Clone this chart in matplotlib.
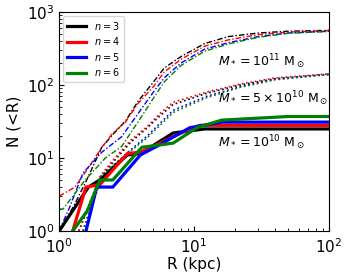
import matplotlib
matplotlib.use("Agg")
import matplotlib.pyplot as plt

# M* = 1e10 (solid)
r10 = {
    "3": [1.0, 1.65, 2.0, 3.2, 4.0, 5.6, 7.0, 12, 100],
    "4": [1.26, 1.58, 2.0, 3.2, 4.0, 5.6, 8.0, 11, 100],
    "5": [1.58, 1.9, 2.5, 4.0, 5.5, 9.3, 16, 100],
    "6": [1.26, 1.62, 2.0, 2.5, 4.1, 7.0, 10.5, 16, 50, 100],
}
n10 = {
    "3": [1, 4, 5, 11, 11.5, 17, 22, 25, 25],
    "4": [1, 4, 4.3, 11.5, 12, 16, 22, 28, 28],
    "5": [1, 4, 4, 11, 15, 26, 31, 31],
    "6": [1, 1.9, 5, 5, 14, 16, 26, 33, 37, 37],
}

# M* = 1e11 (dash-dot)
r11 = {
    "3": [1.0, 1.3, 1.6, 2.07, 2.5, 3.1, 3.85, 5, 6, 8, 12, 18, 30, 50, 100],
    "4": [1.0, 1.31, 1.7, 2.07, 2.5, 3.1, 3.85, 5, 6, 8, 12, 18, 30, 50, 100],
    "5": [1.0, 1.2, 1.5, 2.07, 2.9, 4, 5, 6, 8, 12, 18, 30, 50, 100],
    "6": [1.0, 1.07, 1.56, 2.2, 2.9, 4, 5, 6, 8, 12, 18, 30, 50, 100],
}
n11 = {
    "3": [1, 2.3, 5, 14, 21, 32, 60, 110, 170, 245, 370, 460, 515, 545, 560],
    "4": [3.0, 4, 8, 14, 22, 31, 56, 95, 150, 225, 340, 415, 490, 530, 555],
    "5": [1, 2.15, 6.2, 12, 19.5, 45, 80, 125, 200, 310, 380, 460, 515, 545],
    "6": [2, 2, 5, 10, 14.3, 35, 66, 110, 185, 290, 365, 450, 510, 540],
}

# M* = 5e10 (dotted)
r5 = {
    "3": [1.4, 2.0, 2.4, 3.4, 4.5, 5.6, 7, 12.4, 22, 40, 100],
    "4": [1.4, 2.0, 2.4, 3.4, 4.5, 5.6, 7, 12.4, 22, 40, 100],
    "5": [1.5, 2.0, 2.4, 3.4, 4.5, 5.6, 7, 12.4, 22, 40, 100],
    "6": [1.5, 2.0, 2.4, 3.4, 4.5, 5.6, 7, 12.4, 22, 40, 100],
}
n5 = {
    "3": [1, 5, 8, 16.5, 26, 38, 54, 77, 100, 122, 140],
    "4": [1, 5.5, 8.5, 17.6, 27, 41, 58, 80, 103, 125, 142],
    "5": [1, 4.5, 7.2, 13, 20, 30, 45, 70, 95, 120, 140],
    "6": [1, 5.5, 7.5, 12.5, 19, 28, 42, 67, 93, 118, 139],
}

colors = {"3": "black", "4": "red", "5": "blue", "6": "green"}

fig = plt.figure(figsize=(3.5, 2.78), dpi=100)
ax = fig.add_axes([0.169, 0.169, 0.771, 0.788])

for n in ["3", "4", "5", "6"]:
    ax.plot(r11[n], n11[n], color=colors[n], lw=1.0, linestyle=(0, (4, 1.5, 1, 1.5)))
    ax.plot(r5[n], n5[n], color=colors[n], lw=1.2, linestyle=":")
for n in ["3", "4", "5", "6"]:
    ax.plot(r10[n], n10[n], color=colors[n], lw=2.3, label=f"$n={n}$")

ax.set_xscale("log")
ax.set_yscale("log")
ax.set_xlim(1, 100)
ax.set_ylim(1, 1000)
ax.tick_params(which="both", direction="in", labelsize=11)
ax.tick_params(axis="x", pad=4.5)
ax.set_xlabel("R (kpc)", fontsize=11, labelpad=1)
ax.set_ylabel("N (<R)", fontsize=11)

ax.text(15.1, 207, r"$M_*=10^{11}\ \mathrm{M}_\odot$", fontsize=9, va="center")
ax.text(15.1, 64, r"$M_*=5\times10^{10}\ \mathrm{M}_\odot$", fontsize=9, va="center")
ax.text(15.1, 16, r"$M_*=10^{10}\ \mathrm{M}_\odot$", fontsize=9, va="center")

ax.legend(loc="upper left", fontsize=7, handlelength=2.0, labelspacing=0.35,
          borderaxespad=0.4)

fig.savefig("out.png", dpi=100)
